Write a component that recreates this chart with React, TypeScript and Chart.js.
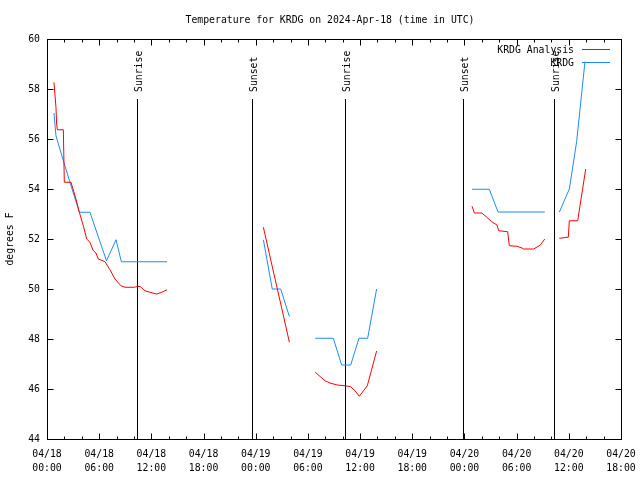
import React, { useEffect, useRef } from "react";
import { Chart, registerables } from "chart.js";

Chart.register(...registerables);

const TITLE = "Temperature for KRDG on 2024-Apr-18 (time in UTC)";
const Y_TITLE = "degrees F";
const SERIES_NAMES = ["KRDG Analysis", "KRDG"];

const X_TICK_DATES = ["04/18", "04/18", "04/18", "04/18", "04/19", "04/19", "04/19", "04/19", "04/20", "04/20", "04/20", "04/20"];
const X_TICK_TIMES = ["00:00", "06:00", "12:00", "18:00", "00:00", "06:00", "12:00", "18:00", "00:00", "06:00", "12:00", "18:00"];

// hours since 04/18 00:00 UTC; null temperature = gap
const ANALYSIS_HOURS = [
  0.8, 1.03, 1.11, 1.19, 1.88, 1.99, 2.76, 3.33, 3.72, 4.2, 4.56, 4.94, 5.3, 5.63, 5.9, 6.67, 7.24, 7.82, 8.5, 8.97, 10.04, 10.4, 10.7, 11.27, 11.84, 12.6, 13.2, 13.8,
  18,
  24.88, 25.88, 26.88, 27.87,
  29,
  30.85, 31.4, 31.97, 32.54, 33.38, 34.3, 34.92, 35.41, 35.91, 36.83, 37.9,
  42,
  48.87, 49.14, 50.0, 50.57, 51.14, 51.74, 51.94, 52.97, 53.16, 54.04, 54.62, 54.8, 55.96, 56.73, 57.23,
  58.5,
  58.9, 59.94, 60.06, 61.02, 61.94,
];
const ANALYSIS_TEMPS = [
  58.27, 57.27, 56.6, 56.37, 56.37, 54.27, 54.27, 53.6, 53.07, 52.5, 52.0, 51.87, 51.55, 51.44, 51.2, 51.09, 50.77, 50.4, 50.13, 50.07, 50.07, 50.1, 50.1, 49.93, 49.87, 49.8, 49.87, 49.97,
  null,
  52.47, 50.93, 49.4, 47.87,
  null,
  46.67, 46.5, 46.33, 46.24, 46.16, 46.13, 46.09, 45.93, 45.71, 46.13, 47.52,
  null,
  53.31, 53.04, 53.04, 52.87, 52.69, 52.56, 52.33, 52.29, 51.73, 51.71, 51.64, 51.6, 51.6, 51.76, 52.0,
  null,
  52.03, 52.07, 52.73, 52.73, 54.8,
];

const OBS_HOURS = [
  0.8, 1.03, 1.88, 2.64, 3.72, 4.94, 6.84, 7.94, 8.55, 13.8,
  18,
  24.88, 25.9, 26.87, 27.87,
  29,
  30.85, 32.92, 33.88, 34.92, 35.87, 36.87, 37.9,
  42,
  48.87, 50.86, 51.86, 57.23,
  58.5,
  58.9, 60.06, 60.9, 61.86,
];
const OBS_TEMPS = [
  57.04, 56.13, 55.13, 54.27, 53.07, 53.07, 51.13, 51.97, 51.09, 51.09,
  null,
  51.97, 50.0, 50.0, 48.9,
  null,
  48.03, 48.03, 46.96, 46.96, 48.03, 48.03, 50.0,
  null,
  53.99, 53.99, 53.08, 53.08,
  null,
  53.07, 54.0, 55.9, 59.1,
];

const SUN_EVENT_HOURS = [10.38, 23.6, 34.3, 47.8, 58.33];
const SUN_EVENT_NAMES = ["Sunrise", "Sunset", "Sunrise", "Sunset", "Sunrise"];

const COLORS = ["#ff0000", "#1a8cff"];
const FONT_FAMILY = '"DejaVu Sans Mono", monospace';
const FONT_SIZE = 9.8;
const FONT = `${FONT_SIZE}px ${FONT_FAMILY}`;

const overlay = {
  id: "overlay",
  beforeDatasetsDraw(chart: any) {
    const { ctx, chartArea: a, scales } = chart;
    const x = scales.x;
    const y = scales.y;
    ctx.save();
    ctx.strokeStyle = "#000";
    ctx.lineWidth = 1;
    ctx.fillStyle = "#000";
    ctx.font = FONT;
    SUN_EVENT_HOURS.forEach((h, i) => {
      const px = Math.round(x.getPixelForValue(h)) + 0.5;
      const top = Math.round(y.getPixelForValue(57.6));
      ctx.beginPath();
      ctx.moveTo(px, top);
      ctx.lineTo(px, a.bottom);
      ctx.stroke();
      ctx.save();
      ctx.translate(px + 4, top - 7);
      ctx.rotate(-Math.PI / 2);
      ctx.textAlign = "left";
      ctx.textBaseline = "alphabetic";
      ctx.fillText(SUN_EVENT_NAMES[i], 0, 0);
      ctx.restore();
    });
    ctx.restore();
  },
  afterDraw(chart: any) {
    const { ctx, chartArea: a, scales } = chart;
    const x = scales.x;
    const y = scales.y;
    ctx.save();
    ctx.strokeStyle = "#000";
    ctx.lineWidth = 1;
    const L = Math.round(a.left) + 0.5;
    const R = Math.round(a.right) + 0.5;
    const T = Math.round(a.top) + 0.5;
    const B = Math.round(a.bottom) + 0.5;
    ctx.strokeRect(L, T, R - L, B - T);
    ctx.beginPath();
    for (let v = 44; v <= 60; v += 2) {
      const py = Math.round(y.getPixelForValue(v)) + 0.5;
      ctx.moveTo(L, py);
      ctx.lineTo(L + 6, py);
      ctx.moveTo(R, py);
      ctx.lineTo(R - 6, py);
    }
    for (let h = 0; h <= 66; h += 2) {
      const px = Math.round(x.getPixelForValue(h)) + 0.5;
      const len = h % 6 === 0 ? 6 : 3;
      ctx.moveTo(px, B);
      ctx.lineTo(px, B - len);
      ctx.moveTo(px, T);
      ctx.lineTo(px, T + len);
    }
    ctx.stroke();

    ctx.fillStyle = "#000";
    ctx.font = FONT;
    // title
    ctx.textAlign = "center";
    ctx.textBaseline = "middle";
    ctx.fillText(TITLE, (a.left + a.right) / 2 - 4, 20);
    // y title
    ctx.save();
    ctx.translate(10, (a.top + a.bottom) / 2);
    ctx.rotate(-Math.PI / 2);
    ctx.fillText(Y_TITLE, 0, 0);
    ctx.restore();
    // legend
    const legendRight = a.right - 47;
    SERIES_NAMES.forEach((name, i) => {
      const ly = Math.round(a.top + 10 + i * 13) + 0.5;
      ctx.textAlign = "right";
      ctx.textBaseline = "middle";
      ctx.fillStyle = "#000";
      ctx.fillText(name, legendRight, ly + 0.5);
      ctx.strokeStyle = COLORS[i];
      ctx.beginPath();
      ctx.moveTo(legendRight + 8, ly);
      ctx.lineTo(legendRight + 36, ly);
      ctx.stroke();
    });
    ctx.restore();
  },
};

export default function App() {
  const canvasRef = useRef<HTMLCanvasElement | null>(null);

  useEffect(() => {
    document.body.style.margin = "0";
    const canvas = canvasRef.current;
    if (!canvas) return;
    const toPoints = (hs: number[], ts: (number | null)[]) => hs.map((h, i) => ({ x: h, y: ts[i] }));
    const chart = new Chart(canvas, {
      type: "line",
      data: {
        datasets: [
          {
            label: SERIES_NAMES[0],
            data: toPoints(ANALYSIS_HOURS, ANALYSIS_TEMPS) as any,
            borderColor: COLORS[0],
            borderWidth: 1,
            pointRadius: 0,
            tension: 0,
            spanGaps: false,
            fill: false,
          },
          {
            label: SERIES_NAMES[1],
            data: toPoints(OBS_HOURS, OBS_TEMPS) as any,
            borderColor: COLORS[1],
            borderWidth: 1,
            pointRadius: 0,
            tension: 0,
            spanGaps: false,
            fill: false,
          },
        ],
      },
      options: {
        responsive: false,
        animation: false,
        devicePixelRatio: 1,
        layout: { padding: { left: 0, right: 19, top: 39, bottom: 0 } },
        plugins: {
          legend: { display: false },
          title: { display: false },
          tooltip: { enabled: false },
        },
        scales: {
          x: {
            type: "linear",
            min: 0,
            max: 66,
            grid: { display: false, drawTicks: false },
            border: { display: false },
            afterFit: (s: any) => {
              s.height = 41;
              s.paddingLeft = 0;
              s.paddingRight = 0;
            },
            ticks: {
              stepSize: 6,
              autoSkip: false,
              maxRotation: 0,
              minRotation: 0,
              padding: 8,
              color: "#000",
              font: { family: FONT_FAMILY, size: FONT_SIZE, lineHeight: 1.45 },
              callback: (v: any) => {
                const i = Math.round(Number(v) / 6);
                return [X_TICK_DATES[i], X_TICK_TIMES[i]];
              },
            },
          },
          y: {
            type: "linear",
            min: 44,
            max: 60,
            grid: { display: false, drawTicks: false },
            border: { display: false },
            afterFit: (s: any) => {
              s.width = 47;
              s.paddingTop = 0;
              s.paddingBottom = 0;
            },
            ticks: {
              stepSize: 2,
              padding: 7,
              color: "#000",
              font: { family: FONT_FAMILY, size: FONT_SIZE },
            },
          },
        },
      },
      plugins: [overlay],
    });
    return () => chart.destroy();
  }, []);

  return (
    <div style={{ width: 640, height: 480, background: "#fff" }}>
      <canvas ref={canvasRef} width={640} height={480} />
    </div>
  );
}
